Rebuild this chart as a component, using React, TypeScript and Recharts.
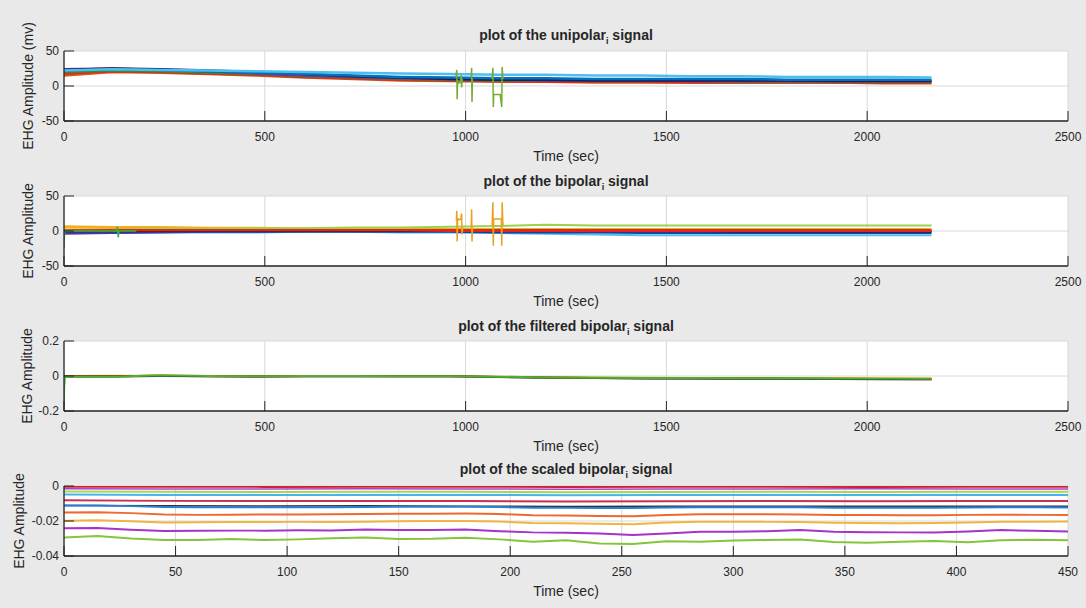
import React from "react";
import { LineChart, Line, XAxis, YAxis, CartesianGrid } from "recharts";

const FONT = '"Liberation Sans", Arial, Helvetica, sans-serif';
const INK = "#262626";
const BG = "#e9e9e9";

// ---- unipolar (sec, mV) ----
const longTicks = [0, 500, 1000, 1500, 2000, 2500];
const ampTicks = [-50, 0, 50];
const uniTime = [0, 120, 240, 360, 480, 600, 720, 840, 960, 1080, 1200, 1320, 1440, 1560, 1680, 1800, 1920, 2040, 2160];
const uniLightBlue = [22, 24, 23, 22, 21, 20, 19, 18, 17, 16, 16, 15, 15, 14, 14, 13, 13, 13, 12];
const uniBlue = [22, 24, 23, 21, 19, 17, 15, 13, 12, 11, 11, 10, 10, 10, 10, 9, 9, 9, 9];
const uniNavy = [23, 25, 24, 22, 20, 17, 14, 12, 10, 9, 9, 8, 8, 8, 8, 8, 7, 7, 7];
const uniPurple = [24, 25, 23, 21, 18, 15, 13, 11, 10, 9, 8, 8, 8, 7, 7, 7, 7, 7, 7];
const uniGreen = [20, 22, 21, 19, 17, 14, 12, 10, 9, 8, 8, 7, 7, 7, 6, 6, 6, 6, 6];
const uniRed = [18, 21, 20, 18, 16, 13, 11, 9, 8, 7, 6, 6, 6, 5, 5, 5, 5, 5, 5];
const uniOrange = [15, 20, 19, 17, 15, 12, 10, 8, 7, 6, 6, 5, 5, 5, 5, 5, 5, 4, 4];
const uniSpikeTime = [976, 978, 979, 980, 983, 986, 989, 990, 992, 1000, 1014, 1015, 1016, 1017, 1040, 1066, 1068, 1069, 1070, 1078, 1086, 1090, 1091, 1093];
const uniSpikeValue = [12, 23, -19, 8, 4, 5, 16, -2, 10, null, 12, 26, -23, 10, null, 10, 26, -30, -12, -12, -12, -30, 27, 10];

// ---- bipolar ----
const bipTime = uniTime;
const bipYellow = [6, 5, 5, 4, 4, 3, 3, 2, 2, 2, 2, 2, 2, 2, 2, 2, 2, 2, 2];
const bipLightGreen = [2, 2, 3, 3, 4, 4, 5, 5, 6, 7, 9, 8, 8, 8, 8, 8, 8, 8, 8];
const bipLightBlue = [-3, -3, -2, -2, -2, -1, -1, -2, -2, -3, -4, -5, -6, -6, -6, -6, -6, -6, -6];
const bipBlue = [-2, -2, -1, -1, -1, -1, -1, -1, -1, -2, -2, -2, -3, -3, -3, -3, -3, -3, -3];
const bipRed = [1, 1, 1, 1, 1, 1, 1, 1, 0, 0, 0, 0, 0, 0, 0, 0, 0, 0, 0];
const bipDarkRed = [0, 1, 1, 1, 1, 1, 1, 1, 1, 1, 1, 1, 1, 1, 1, 1, 1, 1, 1];
const bipPurple = [-4, -3, -2, -1, -1, 0, 0, 0, 0, 0, -1, -1, -1, -1, -1, -1, -1, -1, -1];
const bipBlack = [0, 0, 0, 0, 0, 0, 0, 0, 0, 0, 0, 0, 0, 0, -1, -1, -1, -1, -1];
const bipGreenTime = [0, 1, 3, 130, 133, 135, 137, 180];
const bipGreenValue = [-25, -5, 0, 0, 6, -9, 0, 0];
const bipSpikeTime = [977, 978, 979, 980, 984, 988, 990, 991, 993, 1000, 1014, 1015, 1016, 1017, 1040, 1066, 1068, 1069, 1070, 1080, 1089, 1090, 1091, 1093];
const bipSpikeValue = [15, 29, -15, 18, 16, 17, 25, -5, 5, null, 5, 31, -15, 5, null, 8, 41, -21, 17, 17, 17, -21, 41, 8];

// ---- filtered bipolar ----
const filtTicks = [-0.2, 0, 0.2];
const filtTime = uniTime;
const filtYellow = [0, 0.001, 0.002, 0, -0.001, 0, 0, -0.001, -0.001, -0.004, -0.007, -0.009, -0.01, -0.011, -0.012, -0.012, -0.013, -0.013, -0.014];
const filtRed = [-0.002, -0.001, 0.001, -0.002, -0.004, -0.002, -0.001, -0.002, -0.002, -0.005, -0.009, -0.011, -0.013, -0.014, -0.014, -0.015, -0.016, -0.017, -0.018];
const filtBlack = [-0.003, -0.003, 0, -0.001, -0.002, -0.001, -0.001, -0.002, -0.002, -0.006, -0.01, -0.012, -0.014, -0.015, -0.016, -0.016, -0.017, -0.018, -0.019];
const filtGreen = [-0.004, -0.004, 0.004, 0, -0.002, 0, 0, -0.001, -0.001, -0.004, -0.008, -0.01, -0.012, -0.012, -0.013, -0.013, -0.014, -0.015, -0.016];
const filtGreenStartTime = [0, 1, 3];
const filtGreenStartValue = [-0.17, -0.06, -0.004];

// ---- scaled bipolar ----
const shortTicks = [0, 50, 100, 150, 200, 250, 300, 350, 400, 450];
const scaledTicks = [-0.04, -0.02, 0];
const scaledCoarseTime = [0, 45, 90, 135, 180, 225, 270, 315, 360, 405, 450];
const scaledTopRed = [-0.0004, -0.0004, -0.0005, -0.0004, -0.0004, -0.0005, -0.0004, -0.0004, -0.0005, -0.0004, -0.0004];
const scaledTopPurple = [-0.0016, -0.0017, -0.0017, -0.0016, -0.0017, -0.0018, -0.0017, -0.0017, -0.0016, -0.0017, -0.0017];
const scaledLightGreen = [-0.0032, -0.0033, -0.0034, -0.0033, -0.0033, -0.0035, -0.0034, -0.0033, -0.0034, -0.0033, -0.0033];
const scaledLightBlue = [-0.0049, -0.0051, -0.0052, -0.0051, -0.0051, -0.0053, -0.0052, -0.0051, -0.0052, -0.0051, -0.0051];
const scaledCrimson = [-0.0082, -0.0085, -0.0086, -0.0085, -0.0086, -0.0088, -0.0087, -0.0086, -0.0087, -0.0086, -0.0086];
const scaledBlack = [-0.0111, -0.0113, -0.0114, -0.0113, -0.0115, -0.0117, -0.0116, -0.0115, -0.0116, -0.0116, -0.0116];
const scaledFineTime = [0, 15, 30, 45, 60, 75, 90, 105, 120, 135, 150, 165, 180, 195, 210, 225, 240, 255, 270, 285, 300, 315, 330, 345, 360, 375, 390, 405, 420, 435, 450];
const scaledBlue = [-0.0112, -0.0112, -0.0115, -0.012, -0.0122, -0.0122, -0.0121, -0.0121, -0.0121, -0.012, -0.0119, -0.0119, -0.0119, -0.012, -0.0124, -0.0125, -0.0126, -0.0126, -0.0123, -0.0121, -0.0121, -0.0122, -0.0122, -0.0124, -0.0124, -0.0124, -0.0124, -0.0123, -0.0122, -0.0122, -0.0123];
const scaledOrange = [-0.0152, -0.015, -0.0155, -0.0163, -0.0165, -0.0164, -0.0163, -0.0163, -0.0162, -0.016, -0.0158, -0.0158, -0.0157, -0.016, -0.0167, -0.0168, -0.0172, -0.0173, -0.0166, -0.0162, -0.0161, -0.0162, -0.0163, -0.0166, -0.0166, -0.0167, -0.0167, -0.0165, -0.0164, -0.0165, -0.0165];
const scaledYellow = [-0.0198, -0.0196, -0.0202, -0.0209, -0.0207, -0.0206, -0.0206, -0.0205, -0.0206, -0.0204, -0.0201, -0.02, -0.02, -0.0203, -0.0212, -0.0213, -0.0216, -0.0219, -0.0208, -0.0204, -0.0204, -0.0205, -0.0206, -0.021, -0.0212, -0.0213, -0.0212, -0.0208, -0.0204, -0.0204, -0.0203];
const scaledPurple = [-0.0242, -0.024, -0.025, -0.0257, -0.0256, -0.0255, -0.0255, -0.0253, -0.0254, -0.0249, -0.0252, -0.0251, -0.0249, -0.0258, -0.0265, -0.0267, -0.0272, -0.028, -0.0272, -0.0262, -0.0261, -0.0258, -0.0252, -0.0262, -0.0264, -0.0265, -0.0266, -0.026, -0.0252, -0.0256, -0.026];
const scaledGreen = [-0.0295, -0.0286, -0.03, -0.0308, -0.0309, -0.0303, -0.0309, -0.0305, -0.0299, -0.0294, -0.0303, -0.0302, -0.0296, -0.0305, -0.0318, -0.031, -0.0328, -0.0332, -0.0316, -0.0318, -0.0312, -0.0309, -0.0306, -0.032, -0.0324, -0.0318, -0.0315, -0.0322, -0.031, -0.0307, -0.031];

type Pt = { t: number; v: number | null };
type Series = { key: string; rows: Pt[]; color: string; width?: number };

const rows = (ts: number[], vs: (number | null)[]): Pt[] => ts.map((t, i) => ({ t, v: vs[i] }));

const tickStyle = { fill: INK, fontSize: 12, fontFamily: FONT };
const PLOT_H = 70;
const M_TOP = 12;

function Panel({
  top,
  titleY,
  title,
  yLabel,
  labelX,
  xMax,
  xTicks,
  yDomain,
  yTicks,
  series,
}: {
  top: number;
  titleY: number;
  title: string;
  yLabel: string;
  labelX: number;
  xMax: number;
  xTicks: number[];
  yDomain: [number, number];
  yTicks: number[];
  series: Series[];
}) {
  const midY = top + PLOT_H / 2;
  return (
    <>
      <div
        style={{
          position: "absolute",
          left: 64,
          width: 1004,
          top: titleY - 9,
          textAlign: "center",
          fontFamily: FONT,
          fontSize: 14,
          fontWeight: "bold",
          color: INK,
          lineHeight: "18px",
          whiteSpace: "nowrap",
        }}
      >
        plot of the {title}
        <sub style={{ fontSize: 9 }}>i</sub> signal
      </div>
      <div
        style={{
          position: "absolute",
          left: labelX - 100,
          top: midY - 9,
          width: 200,
          height: 18,
          lineHeight: "18px",
          textAlign: "center",
          transform: "rotate(-90deg)",
          fontFamily: FONT,
          fontSize: 14,
          color: INK,
          whiteSpace: "nowrap",
        }}
      >
        {yLabel}
      </div>
      <div style={{ position: "absolute", left: 0, top: top - M_TOP }}>
        <LineChart width={1086} height={M_TOP + PLOT_H + 46} margin={{ top: M_TOP, right: 18, bottom: 0, left: 0 }}>
          <CartesianGrid stroke="#d8d8d8" fill="#ffffff" fillOpacity={1} />
          <XAxis
            dataKey="t"
            type="number"
            domain={[0, xMax]}
            ticks={xTicks}
            interval={0}
            allowDataOverflow
            height={46}
            tickSize={-10}
            tickMargin={21}
            tick={tickStyle}
            axisLine={{ stroke: INK, strokeWidth: 1.3 }}
            tickLine={{ stroke: INK }}
            label={{ value: "Time (sec)", position: "insideBottom", offset: 6, fill: INK, fontSize: 14, fontFamily: FONT }}
          />
          <XAxis
            xAxisId="top"
            orientation="top"
            type="number"
            domain={[0, xMax]}
            ticks={xTicks}
            interval={0}
            allowDataOverflow
            height={0}
            tickSize={-10}
            tick={false}
            axisLine={{ stroke: INK, strokeWidth: 1.3 }}
            tickLine={{ stroke: INK }}
          />
          <YAxis
            type="number"
            domain={yDomain}
            ticks={yTicks}
            interval={0}
            allowDataOverflow
            width={64}
            tickSize={-10}
            tickMargin={15}
            tick={tickStyle}
            axisLine={{ stroke: INK, strokeWidth: 1.3 }}
            tickLine={{ stroke: INK }}
          />
          <YAxis
            yAxisId="right"
            orientation="right"
            type="number"
            domain={yDomain}
            ticks={yTicks}
            interval={0}
            allowDataOverflow
            width={0}
            tickSize={-10}
            tick={false}
            axisLine={{ stroke: INK, strokeWidth: 1.3 }}
            tickLine={{ stroke: INK }}
          />
          {series.map((s) => (
            <Line
              key={s.key}
              data={s.rows}
              dataKey="v"
              type="linear"
              stroke={s.color}
              strokeWidth={s.width ?? 2}
              dot={false}
              activeDot={false}
              isAnimationActive={false}
            />
          ))}
        </LineChart>
      </div>
    </>
  );
}

export default function App() {
  const uni: Series[] = [
    { key: "orange", rows: rows(uniTime, uniOrange), color: "#D95319", width: 2.5 },
    { key: "red", rows: rows(uniTime, uniRed), color: "#e8231c", width: 2.5 },
    { key: "green", rows: rows(uniTime, uniGreen), color: "#3c8c2c", width: 2.5 },
    { key: "purple", rows: rows(uniTime, uniPurple), color: "#7E2F8E", width: 2.5 },
    { key: "navy", rows: rows(uniTime, uniNavy), color: "#1b1f5e", width: 2.5 },
    { key: "blue", rows: rows(uniTime, uniBlue), color: "#0072BD", width: 2.5 },
    { key: "lightblue", rows: rows(uniTime, uniLightBlue), color: "#4DBEEE", width: 2.5 },
    { key: "spike", rows: rows(uniSpikeTime, uniSpikeValue), color: "#77AC30", width: 1.5 },
  ];
  const bip: Series[] = [
    { key: "yellow", rows: rows(bipTime, bipYellow), color: "#EDB120", width: 3 },
    { key: "lightblue", rows: rows(bipTime, bipLightBlue), color: "#4DBEEE" },
    { key: "purple", rows: rows(bipTime, bipPurple), color: "#7E2F8E" },
    { key: "lightgreen", rows: rows(bipTime, bipLightGreen), color: "#9ed04a" },
    { key: "blue", rows: rows(bipTime, bipBlue), color: "#1a3fa0" },
    { key: "darkred", rows: rows(bipTime, bipDarkRed), color: "#A2142F" },
    { key: "black", rows: rows(bipTime, bipBlack), color: "#222222", width: 1.5 },
    { key: "red", rows: rows(bipTime, bipRed), color: "#e8231c" },
    { key: "green", rows: rows(bipGreenTime, bipGreenValue), color: "#3cb043", width: 1.5 },
    { key: "spike", rows: rows(bipSpikeTime, bipSpikeValue), color: "#EDA020", width: 1.5 },
  ];
  const filt: Series[] = [
    { key: "yellow", rows: rows(filtTime, filtYellow), color: "#EDB120" },
    { key: "red", rows: rows(filtTime, filtRed), color: "#e8231c" },
    { key: "black", rows: rows(filtTime, filtBlack), color: "#333333" },
    { key: "green", rows: rows(filtTime, filtGreen), color: "#4cb030" },
    { key: "greenstart", rows: rows(filtGreenStartTime, filtGreenStartValue), color: "#4cb030", width: 1.5 },
  ];
  const scaled: Series[] = [
    { key: "topred", rows: rows(scaledCoarseTime, scaledTopRed), color: "#cc2233" },
    { key: "toppurple", rows: rows(scaledCoarseTime, scaledTopPurple), color: "#b040d0", width: 1.5 },
    { key: "lightgreen", rows: rows(scaledCoarseTime, scaledLightGreen), color: "#a6d84a" },
    { key: "lightblue", rows: rows(scaledCoarseTime, scaledLightBlue), color: "#48b4ee" },
    { key: "crimson", rows: rows(scaledCoarseTime, scaledCrimson), color: "#c8304e" },
    { key: "black", rows: rows(scaledCoarseTime, scaledBlack), color: "#333333", width: 1.5 },
    { key: "blue", rows: rows(scaledFineTime, scaledBlue), color: "#2a7fd0" },
    { key: "orange", rows: rows(scaledFineTime, scaledOrange), color: "#ec6a30" },
    { key: "yellow", rows: rows(scaledFineTime, scaledYellow), color: "#f0b440" },
    { key: "purple", rows: rows(scaledFineTime, scaledPurple), color: "#a632c8" },
    { key: "green", rows: rows(scaledFineTime, scaledGreen), color: "#86c43a" },
  ];

  return (
    <div style={{ position: "fixed", left: 0, top: 0, width: 1086, height: 608, background: BG, overflow: "hidden" }}>
      <Panel top={51} titleY={35} title="unipolar" yLabel="EHG Amplitude (mv)" labelX={28} xMax={2500} xTicks={longTicks} yDomain={[-50, 50]} yTicks={ampTicks} series={uni} />
      <Panel top={196} titleY={181} title="bipolar" yLabel="EHG Amplitude" labelX={28} xMax={2500} xTicks={longTicks} yDomain={[-50, 50]} yTicks={ampTicks} series={bip} />
      <Panel top={341} titleY={326} title="filtered bipolar" yLabel="EHG Amplitude" labelX={27} xMax={2500} xTicks={longTicks} yDomain={[-0.2, 0.2]} yTicks={filtTicks} series={filt} />
      <Panel top={486} titleY={469} title="scaled bipolar" yLabel="EHG Amplitude" labelX={19} xMax={450} xTicks={shortTicks} yDomain={[-0.04, 0]} yTicks={scaledTicks} series={scaled} />
    </div>
  );
}
